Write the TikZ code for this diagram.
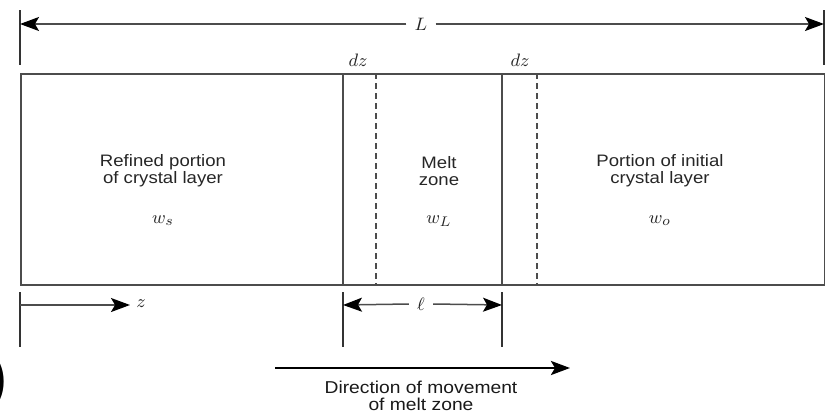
\documentclass[tikz,border=0pt]{standalone}
\usepackage{fontspec}
\setsansfont[FakeStretch=1.12]{Liberation Sans}
\usetikzlibrary{arrows.meta}
\begin{document}
\begin{tikzpicture}[x=0.5pt,y=-0.5pt,
  thinline/.style={line width=0.75pt,draw=black!70},
  tickline/.style={line width=0.6pt,draw=black!80},
  dimarrow/.style={thinline,-{Stealth[length=9.5pt,width=7pt,inset=2pt,color=black]}},
  dashline/.style={thinline,dash pattern=on 3pt off 2pt},
  boxtext/.style={font=\sffamily\fontsize{8.3}{8.6}\selectfont,align=center,text=black!85},
  dirtext/.style={font=\sffamily\fontsize{8.6}{8.6}\selectfont,align=center,text=black!90},
  mathlbl/.style={font=\fontsize{9.5}{10}\selectfont,text=black!85,inner sep=1pt}]
\useasboundingbox (0,0) rectangle (825,413);
% L dimension
\coordinate (Ltl) at (20,10); \coordinate (Lbl) at (20,65);
\coordinate (Ltr) at (824,10); \coordinate (Lbr) at (824,65);
\draw[tickline] (Ltl) -- (Lbl);
\draw[tickline] (Ltr) -- (Lbr);
\coordinate (La) at (20,24); \coordinate (Lb) at (824,24);
\node[mathlbl,inner sep=4pt] (L) at (421,24) {$L$};
\draw[dimarrow] (L.west) -- (La);
\draw[dimarrow] (L.east) -- (Lb);
% main box
\node[draw=black!70,line width=0.8pt,minimum width=803.5pt*0.5,minimum height=211pt*0.5,inner sep=0pt,anchor=north west] (box) at (20,73) {};
% dividers
\coordinate (s1t) at (343,73); \coordinate (s1b) at (343,284);
\coordinate (d1t) at (376,73); \coordinate (d1b) at (376,284);
\coordinate (s2t) at (502,73); \coordinate (s2b) at (502,284);
\coordinate (d2t) at (537,73); \coordinate (d2b) at (537,284);
\draw[thinline] (s1t) -- (s1b);
\draw[thinline] (s2t) -- (s2b);
\draw[dashline] (d1t) -- (d1b);
\draw[dashline] (d2t) -- (d2b);
\node[mathlbl] (dz1) at (358,60) {$dz$};
\node[mathlbl] (dz2) at (520,60) {$dz$};
% texts
\node[boxtext] (t1) at (163,171) {Refined portion\\of crystal layer};
\node[boxtext] (t2) at (439,171) {Melt\\zone};
\node[boxtext] (t3) at (660,171) {Portion of initial\\crystal layer};
\node[mathlbl] (w1) at (163,221) {$w_s$};
\node[mathlbl] (w2) at (439,221) {$w_L$};
\node[mathlbl] (w3) at (660,221) {$w_o$};
% z dimension
\coordinate (zt) at (20,292); \coordinate (zb) at (20,347);
\draw[tickline] (zt) -- (zb);
\coordinate (z0) at (20,305); \coordinate (z1) at (130,305);
\draw[dimarrow] (z0) -- (z1);
\node[mathlbl,anchor=west] (zl) at (134,304) {$z$};
% l dimension
\coordinate (lt1) at (343,292); \coordinate (lb1) at (343,347);
\coordinate (lt2) at (502,292); \coordinate (lb2) at (502,347);
\draw[tickline] (lt1) -- (lb1);
\draw[tickline] (lt2) -- (lb2);
\coordinate (la) at (343,305); \coordinate (lb) at (502,305);
\node[mathlbl,inner sep=4pt] (ell) at (421,304) {$\ell$};
\draw[dimarrow] (ell.west) -- (la);
\draw[dimarrow] (ell.east) -- (lb);
% direction arrow
\coordinate (m0) at (275,368); \coordinate (m1) at (570,368);
\draw[line width=1.3pt,-{Stealth[length=9.5pt,width=7pt,inset=2pt]}] (m0) -- (m1);
\node[dirtext] (dir) at (421,396) {Direction of movement\\of melt zone};
% clipped fragment at left edge
\node[font=\sffamily\fontsize{34}{34}\selectfont,anchor=east,inner sep=0pt] (frag) at (9,382) {)};
\end{tikzpicture}
\end{document}
